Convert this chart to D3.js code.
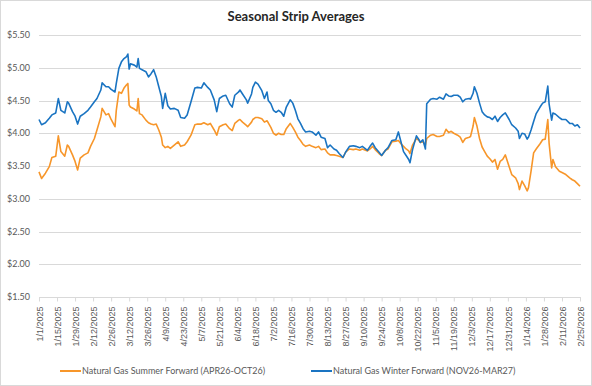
<!DOCTYPE html>
<html>
<head>
<meta charset="utf-8">
<script src="https://cdn.jsdelivr.net/npm/d3@7"></script>
<style>
  body { margin: 0; background: #fff; }
  svg { font-family: Lato, "Open Sans", sans-serif; }
  .grid line { stroke: #d9d9d9; }
  .axis text { fill: #595959; font-size: 9px; }
  .axis path, .axis line { stroke: #d9d9d9; }
</style>
</head>
<body>
<div id="chart"></div>
<script>
// values
const dates = [
  '2025-01-01','2025-01-03','2025-01-06','2025-01-09','2025-01-11','2025-01-14','2025-01-16','2025-01-18',
  '2025-01-21','2025-01-23','2025-01-24','2025-01-27','2025-01-29','2025-01-31','2025-02-02','2025-02-05',
  '2025-02-08','2025-02-10','2025-02-13','2025-02-15','2025-02-18','2025-02-19','2025-02-22','2025-02-24',
  '2025-02-26','2025-03-01','2025-03-02','2025-03-04','2025-03-06','2025-03-08','2025-03-10','2025-03-11',
  '2025-03-12','2025-03-13','2025-03-16','2025-03-18','2025-03-19','2025-03-20','2025-03-22','2025-03-25',
  '2025-03-27','2025-03-29','2025-03-31','2025-04-02','2025-04-04','2025-04-06','2025-04-07','2025-04-09',
  '2025-04-11','2025-04-13','2025-04-16','2025-04-19','2025-04-21','2025-04-24','2025-04-26','2025-04-29',
  '2025-05-02','2025-05-04','2025-05-07','2025-05-09','2025-05-12','2025-05-14','2025-05-17','2025-05-19',
  '2025-05-21','2025-05-24','2025-05-26','2025-05-29','2025-05-31','2025-06-02','2025-06-05','2025-06-06',
  '2025-06-08','2025-06-11','2025-06-12','2025-06-15','2025-06-16','2025-06-18','2025-06-20','2025-06-23',
  '2025-06-25','2025-06-27','2025-06-28','2025-06-30','2025-07-02','2025-07-04','2025-07-06','2025-07-08',
  '2025-07-10','2025-07-12','2025-07-15','2025-07-17','2025-07-19','2025-07-21','2025-07-23','2025-07-25',
  '2025-07-27','2025-07-30','2025-08-01','2025-08-04','2025-08-06','2025-08-08','2025-08-11','2025-08-13',
  '2025-08-15','2025-08-18','2025-08-20','2025-08-22','2025-08-25','2025-08-27','2025-08-30','2025-09-02',
  '2025-09-04','2025-09-07','2025-09-09','2025-09-13','2025-09-15','2025-09-17','2025-09-19','2025-09-22',
  '2025-09-24','2025-09-27','2025-09-29','2025-10-02','2025-10-05','2025-10-07','2025-10-09','2025-10-11',
  '2025-10-13','2025-10-15','2025-10-16','2025-10-18','2025-10-21','2025-10-23','2025-10-24','2025-10-26',
  '2025-10-28','2025-10-29','2025-11-01','2025-11-03','2025-11-06','2025-11-08','2025-11-11','2025-11-13',
  '2025-11-15','2025-11-17','2025-11-19','2025-11-22','2025-11-24','2025-11-26','2025-11-28','2025-12-01',
  '2025-12-02','2025-12-04','2025-12-05','2025-12-07','2025-12-09','2025-12-11','2025-12-13','2025-12-15',
  '2025-12-17','2025-12-19','2025-12-21','2025-12-23','2025-12-25','2025-12-27','2025-12-29','2026-01-01',
  '2026-01-03','2026-01-06','2026-01-08','2026-01-09','2026-01-11','2026-01-13','2026-01-15','2026-01-16',
  '2026-01-18','2026-01-20','2026-01-22','2026-01-25','2026-01-27','2026-01-29','2026-01-31','2026-02-01',
  '2026-02-03','2026-02-04','2026-02-06','2026-02-09','2026-02-11','2026-02-14','2026-02-17','2026-02-19',
  '2026-02-21','2026-02-23','2026-02-25'
]

const winter = [
  4.21,4.13,4.16,4.23,4.28,4.31,4.53,4.35, 4.31,4.48,4.46,4.33,4.26,4.14,4.26,4.30,
  4.35,4.40,4.48,4.53,4.66,4.77,4.71,4.71, 4.67,4.63,4.76,4.99,5.09,5.14,5.17,5.21,
  4.98,5.06,5.04,5.01,5.14,4.99,4.97,4.94, 4.86,4.91,4.97,4.86,4.71,4.56,4.38,4.61,
  4.42,4.37,4.38,4.35,4.24,4.23,4.28,4.48, 4.69,4.70,4.69,4.77,4.70,4.66,4.51,4.33,
  4.53,4.57,4.58,4.45,4.40,4.58,4.63,4.66, 4.60,4.51,4.46,4.60,4.70,4.78,4.75,4.65,
  4.53,4.63,4.50,4.45,4.35,4.32,4.35,4.32, 4.26,4.40,4.51,4.46,4.35,4.22,4.15,4.07,
  4.02,4.03,4.02,3.97,4.02,3.94,3.92,3.78, 3.82,3.76,3.74,3.69,3.63,3.71,3.80,3.81,
  3.80,3.78,3.80,3.74,3.80,3.85,3.78,3.71, 3.66,3.74,3.78,3.89,3.90,4.02,3.87,3.72,
  3.66,3.60,3.55,3.75,3.96,3.90,3.86,3.90, 3.76,4.45,4.52,4.53,4.52,4.55,4.52,4.60,
  4.57,4.56,4.58,4.58,4.55,4.48,4.52,4.53, 4.52,4.61,4.71,4.61,4.46,4.33,4.28,4.25,
  4.24,4.21,4.26,4.18,4.24,4.28,4.31,4.21, 4.13,4.08,4.03,3.92,4.00,3.99,3.91,3.94,
  4.05,4.18,4.30,4.40,4.46,4.48,4.72,4.45, 4.20,4.31,4.29,4.24,4.21,4.21,4.15,4.15,
  4.11,4.13,4.08
]

const summer = [
  3.41,3.31,3.39,3.49,3.63,3.65,3.96,3.72, 3.65,3.82,3.80,3.67,3.57,3.44,3.62,3.67,
  3.70,3.80,3.92,4.05,4.25,4.38,4.28,4.30, 4.21,4.10,4.35,4.63,4.61,4.69,4.74,4.76,
  4.43,4.40,4.37,4.34,4.53,4.30,4.28,4.20, 4.16,4.14,4.13,4.14,4.05,3.94,3.82,3.78,
  3.80,3.77,3.82,3.87,3.80,3.82,3.87,3.97, 4.13,4.14,4.14,4.16,4.13,4.15,4.05,3.97,
  4.10,4.13,4.14,4.07,4.04,4.15,4.20,4.21, 4.17,4.12,4.10,4.17,4.21,4.24,4.24,4.22,
  4.17,4.19,4.16,4.09,4.00,3.97,4.00,3.98, 3.98,4.07,4.15,4.09,4.02,3.94,3.89,3.83,
  3.80,3.82,3.80,3.78,3.80,3.75,3.76,3.70, 3.67,3.67,3.66,3.65,3.63,3.71,3.76,3.75,
  3.76,3.74,3.76,3.73,3.76,3.80,3.75,3.69, 3.66,3.74,3.76,3.87,3.88,3.89,3.84,3.80,
  3.76,3.73,3.69,3.82,3.92,3.89,3.86,3.87, 3.82,3.92,3.97,3.98,3.95,3.95,3.97,4.06,
  4.01,4.03,4.00,3.97,3.94,3.86,3.92,3.94, 3.95,4.11,4.24,4.11,3.92,3.79,3.72,3.65,
  3.61,3.56,3.60,3.45,3.57,3.60,3.67,3.49, 3.37,3.32,3.23,3.14,3.27,3.20,3.12,3.17,
  3.42,3.70,3.76,3.84,3.90,3.91,4.21,3.85, 3.47,3.60,3.49,3.42,3.40,3.37,3.32,3.29,
  3.27,3.23,3.19
]

const seriesNames = ['Natural Gas Summer Forward (APR26-OCT26)', 'Natural Gas Winter Forward (NOV26-MAR27)']
const yTicks = [1.5, 2, 2.5, 3, 3.5, 4, 4.5, 5, 5.5]

const width = 592, height = 386
const margin = {top: 35, right: 12, bottom: 89, left: 39}
const colors = ['#f7962a', '#1a74c2']

const parse = d3.timeParse('%Y-%m-%d')
const days = dates.map(parse)

var svg = d3.select('#chart')
  .append('svg')
    .attr('width', width)
    .attr('height', height)

// chart border
svg.append('rect')
  .attr('x', 0.5).attr('y', 0.5)
  .attr('width', width - 1).attr('height', height - 1)
  .style('fill', 'none')
  .style('stroke', '#d9d9d9')

var x = d3.scaleTime()
  .domain([parse('2025-01-01'), parse('2026-02-25')])
  .range([margin.left, width - margin.right])

var y = d3.scaleLinear()
  .domain([1.5, 5.5])
  .range([height - margin.bottom, margin.top])

// horizontal gridlines
svg.append('g')
  .classed('grid', true)
  .selectAll('line')
  .data(yTicks)
  .join('line')
    .attr('x1', margin.left)
    .attr('x2', width - margin.right + 1)
    .attr('y1', d => Math.round(y(d)) + 0.5)
    .attr('y2', d => Math.round(y(d)) + 0.5)

// y axis labels
svg.append('g')
  .classed('axis', true)
  .selectAll('text')
  .data(yTicks)
  .join('text')
    .attr('x', margin.left - 9)
    .attr('y', d => y(d))
    .attr('dy', '0.35em')
    .attr('text-anchor', 'end')
    .text(d3.format('$.2f'))

// x axis, a tick every 14 days
var xTicks = d3.timeDay.range(parse('2025-01-01'), parse('2026-02-26'), 14)
var xAxis = svg.append('g')
  .classed('axis', true)
  .attr('transform', 'translate(0,' + (Math.round(y(1.5)) + 0.5) + ')')
  .call(d3.axisBottom(x)
    .tickValues(xTicks)
    .tickSize(4)
    .tickSizeOuter(0)
    .tickFormat(d3.timeFormat('%-m/%-d/%Y')))

xAxis.select('.domain').remove()
xAxis.selectAll('text')
  .attr('transform', 'rotate(-90)')
  .attr('text-anchor', 'end')
  .attr('x', -9)
  .attr('y', 0)
  .attr('dy', '0.35em')

// lines
var series = [summer, winter]
series.forEach(function(vals, i){
  var line = d3.line()
    .x((d, j) => x(days[j]))
    .y(d => y(d))
  svg.append('path')
    .datum(vals)
    .attr('d', line)
    .style('fill', 'none')
    .style('stroke', colors[i])
    .style('stroke-width', 1.6)
    .style('stroke-linejoin', 'round')
})

// title
svg.append('text')
  .attr('x', width / 2)
  .attr('y', 21)
  .attr('text-anchor', 'middle')
  .style('font-size', '13px')
  .style('font-weight', 'bold')
  .style('fill', '#262626')
  .text('Seasonal Strip Averages')

// legend
var legendX = [60, 311]
var legend = svg.append('g')
  .selectAll('g')
  .data(seriesNames)
  .join('g')
    .attr('transform', (d, i) => 'translate(' + legendX[i] + ',371)')

legend.append('line')
  .attr('x1', 0).attr('x2', 21)
  .style('stroke', (d, i) => colors[i])
  .style('stroke-width', 2)

legend.append('text')
  .attr('x', 22)
  .attr('dy', '0.35em')
  .style('font-size', '9px')
  .style('fill', '#595959')
  .text(d => d)
</script>
</body>
</html>
